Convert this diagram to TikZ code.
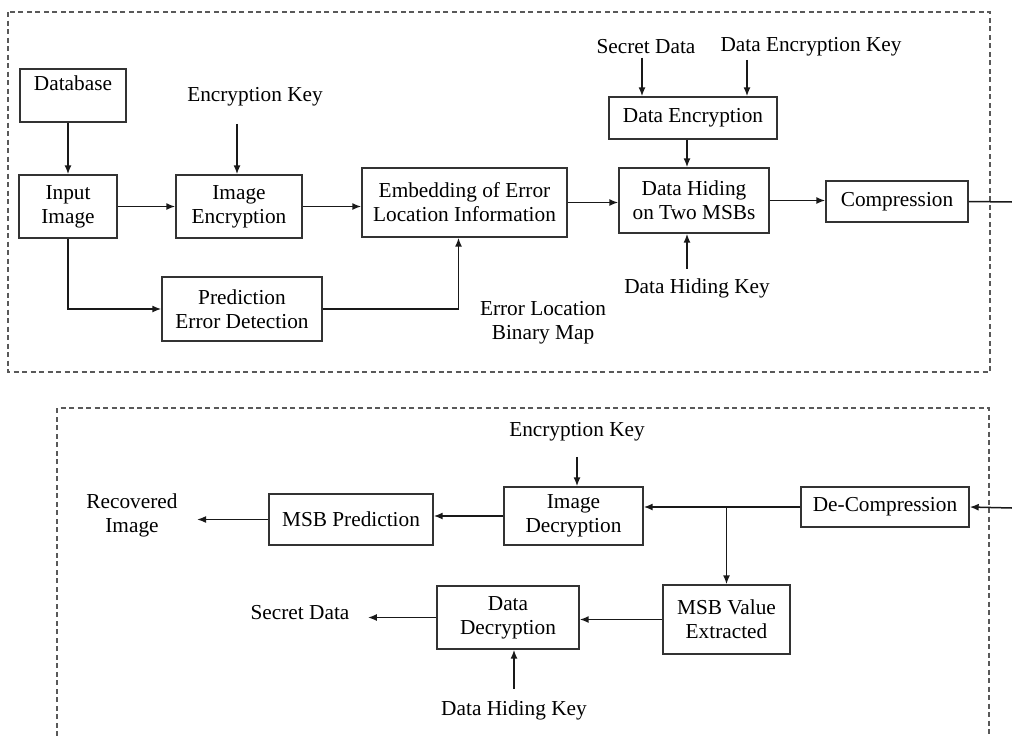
\documentclass[tikz,border=0pt]{standalone}
\usepackage{fontspec}
\setmainfont{Liberation Serif}
\usetikzlibrary{arrows.meta}

\begin{document}
\begin{tikzpicture}
  [x=1pt,y=-1pt,
   every node/.style={font=\fontsize{21.3}{24}\selectfont,align=center,text=black},
   blk/.style={draw=black!80,line width=1.4pt,inner sep=0pt},
   arr/.style={draw=black!90,line width=1.5pt,-{Latex[length=9pt,width=7pt]}},
   ln/.style={draw=black!90,line width=1.5pt},
   frame/.style={draw=black!65,line width=1.2pt,dash pattern=on 5pt off 3.5pt}]
  \useasboundingbox (0,0) rectangle (1012,736);

  % dashed frames
  \draw[frame] (8,12) rectangle (990,372);
  \draw[frame] (57,736) -- (57,408) -- (989,408) -- (989,736);

  % sender side
  \node[blk,minimum width=106pt,minimum height=53pt] (db) at (73,95.5) {Database\\~};
  \node[blk,minimum width=98pt,minimum height=63pt] (inimg) at (68,206.5) {Input\\Image};
  \node[blk,minimum width=126pt,minimum height=63pt] (imgenc) at (239,206.5) {Image\\Encryption};
  \node[blk,minimum width=160pt,minimum height=64pt] (pred) at (242,309) {Prediction\\Error Detection};
  \node[blk,minimum width=205pt,minimum height=69pt] (emb) at (464.5,202.5) {Embedding of Error\\Location Information};
  \node[blk,minimum width=168pt,minimum height=42pt] (dataenc) at (693,118) {Data Encryption};
  \node[blk,minimum width=150pt,minimum height=65pt] (hide) at (694,200.5) {Data Hiding\\on Two MSBs};
  \node[blk,minimum width=142pt,minimum height=41pt] (comp) at (897,201.5) {Compression};

  \node (ek) at (255,97) {Encryption Key};
  \node (sd) at (646,47) {Secret Data};
  \node (dek) at (811,47) {Data Encryption Key};
  \node (dhk) at (697,288) {Data Hiding Key};
  \node (elmap) at (543,323) {Error Location\\Binary Map};
  \coordinate (outR) at (1012,202);

  \draw[arr] (db.south -| inimg.north) -- (inimg.north);
  \draw[arr,shorten <=14pt] ([xshift=-18pt]ek.south) -- ([xshift=-18pt]ek.south |- imgenc.north);
  \draw[arr] (inimg.south) |- (pred.west);
  \draw[arr] (pred.east) -| ([xshift=-6pt]emb.south);
  \draw[arr] ([xshift=-51pt]dataenc.north |- sd.south) -- ([xshift=-51pt]dataenc.north);
  \draw[arr] ([xshift=54pt]dataenc.north |- dek.south) -- ([xshift=54pt]dataenc.north);
  \draw[arr] ([xshift=-7pt]hide.north |- dataenc.south) -- ([xshift=-7pt]hide.north);
  \draw[arr,shorten <=6pt] ([xshift=-7pt]hide.south |- dhk.north) -- ([xshift=-7pt]hide.south);

  \foreach \from/\to in {inimg/imgenc, imgenc/emb, emb/hide, hide/comp}
    \draw[arr] (\from.east) -- (\from.east -| \to.west);
  \draw[ln] (comp.east) -- (outR);

  % receiver side
  \node[blk,minimum width=168pt,minimum height=40pt] (decomp) at (885,507) {De-Compression};
  \node[blk,minimum width=139pt,minimum height=58pt] (imgdec) at (573.5,516) {Image\\Decryption};
  \node[blk,minimum width=127pt,minimum height=69pt] (msbval) at (726.5,619.5) {MSB Value\\Extracted};
  \node[blk,minimum width=142pt,minimum height=63pt] (datadec) at (508,617.5) {Data\\Decryption};
  \node[blk,minimum width=164pt,minimum height=51pt] (msbpred) at (351,519.5) {MSB Prediction};

  \node (ek2) at (577,432) {Encryption Key};
  \node (dhk2) at (514,710) {Data Hiding Key};
  \node (sd2) at (300,613) {Secret Data};
  \node (recimg) at (132,515) {Recovered\\Image};
  \coordinate (inR) at (1012,508);

  \draw[arr] (inR) -- (decomp.east);
  \draw[arr] (decomp.west) -- (decomp.west -| imgdec.east);
  \draw[arr] (msbval.north |- decomp.west) -- (msbval.north);
  \draw[arr,shorten <=12pt] (ek2.south) -- (ek2.south |- imgdec.north);
  \draw[arr,shorten <=8pt] (dhk2.north) -- (dhk2.north |- datadec.south);
  \draw[arr] (imgdec.west) -- (imgdec.west -| msbpred.east);
  \draw[arr,shorten >=16pt] (msbpred.west) -- (msbpred.west -| recimg.east);
  \draw[arr] (msbval.west) -- (msbval.west -| datadec.east);
  \draw[arr,shorten >=15pt] (datadec.west) -- (datadec.west -| sd2.east);

\end{tikzpicture}
\end{document}
